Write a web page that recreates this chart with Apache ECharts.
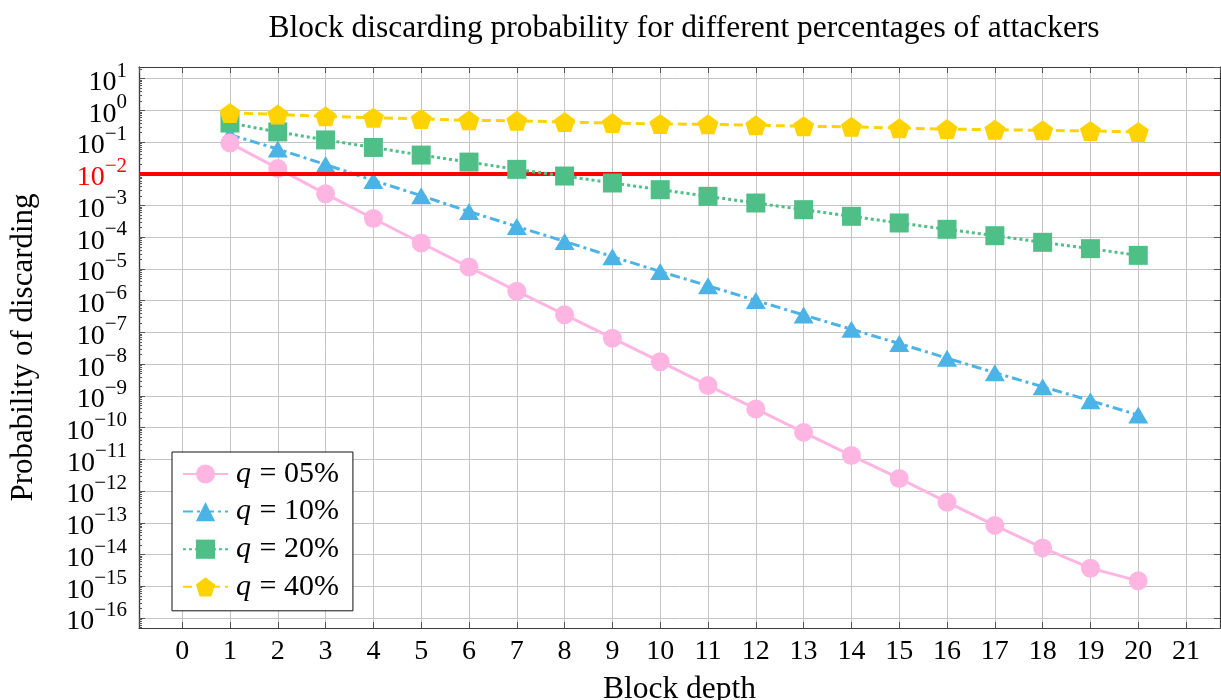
<!DOCTYPE html>
<html><head><meta charset="utf-8">
<script src="https://cdn.jsdelivr.net/npm/echarts@6/dist/echarts.min.js"></script>
<style>html,body{margin:0;padding:0;background:#fff}#c{width:1221px;height:700px}</style>
</head><body><div id="c"></div>
<script>
// ---- data ----
const depths = [1,2,3,4,5,6,7,8,9,10,11,12,13,14,15,16,17,18,19,20];
const q05 = [9.3e-2,1.48e-2,2.34e-3,3.89e-4,6.6e-5,1.15e-5,2.0e-6,3.63e-7,6.6e-8,1.2e-8,2.14e-9,3.89e-10,7.08e-11,1.32e-11,2.51e-12,4.47e-13,8.3e-14,1.62e-14,3.72e-15,1.48e-15];
const q10 = [1.70e-1,6.03e-2,1.95e-2,6.17e-3,2.04e-3,6.46e-4,2.19e-4,7.41e-5,2.45e-5,8.32e-6,2.95e-6,1.02e-6,3.55e-7,1.26e-7,4.47e-8,1.55e-8,5.37e-9,1.95e-9,7.08e-10,2.51e-10];
const q20 = [3.98e-1,2.09e-1,1.17e-1,6.76e-2,3.89e-2,2.34e-2,1.38e-2,8.51e-3,5.13e-3,3.16e-3,1.95e-3,1.20e-3,7.41e-4,4.57e-4,2.82e-4,1.78e-4,1.12e-4,6.92e-5,4.37e-5,2.69e-5];
const q40 = [8.32e-1,7.41e-1,6.46e-1,5.89e-1,5.37e-1,4.84e-1,4.68e-1,4.27e-1,3.98e-1,3.72e-1,3.63e-1,3.39e-1,3.16e-1,3.02e-1,2.75e-1,2.57e-1,2.45e-1,2.34e-1,2.24e-1,2.09e-1];
const threshold = 1e-2;
const seriesNames = ['q = 05%','q = 10%','q = 20%','q = 40%'];
const titleText = 'Block discarding probability for different percentages of attackers';
const xName = 'Block depth';
const yName = 'Probability of discarding';
const xRange = [-0.903, 21.71];
const yExpRange = [-16.315, 1.366];

// ---- helpers ----
const FONT = "'Liberation Serif', 'DejaVu Serif', serif";
const lg = v => Math.log10(v);
const minorVals = [];
for (let n = -17; n <= 1; n++) for (let k = 2; k <= 9; k++) {
  const v = n + Math.log10(k);
  if (v > yExpRange[0] && v < yExpRange[1]) minorVals.push(v);
}
const isInt = v => Math.abs(v - Math.round(v)) < 1e-6;
function yFmt(v) {
  if (!isInt(v)) return '';
  const r = Math.round(v);
  const e = r < 0 ? '\u2212' + (-r) : String(r);
  return r === Math.round(lg(threshold)) ? `{rb|10}{rs|${e}}` : `{b|10}{s|${e}}`;
}
function xFmt(v) { return isInt(v) ? String(Math.round(v)) : ''; }

const gridColor = '#c4c4c4';
const axisColor = '#3a3a3a';
const tickColor = '#555';

function mk(name, vals, color, dash, symbol, size, width, z) {
  return {
    name, type: 'line', z,
    data: depths.map((d, i) => [d, lg(vals[i])]),
    symbol, symbolSize: size,
    lineStyle: { color, width, type: dash },
    itemStyle: { color },
    emphasis: { disabled: true }
  };
}
const pentagon = 'path://M0,-1L0.951,-0.309L0.588,0.809L-0.588,0.809L-0.951,-0.309Z';

const series = [
  mk(seriesNames[0], q05, '#ffb5e2', 'solid', 'circle', 19, 3, 4),
  mk(seriesNames[1], q10, '#4cb3e6', [10,4,3,4], 'triangle', [20,17], 3, 3),
  mk(seriesNames[2], q20, '#50bf87', [3,3], 'rect', 19, 3, 5),
  mk(seriesNames[3], q40, '#ffd300', [9,5], pentagon, [21,20], 3, 6)
];
series[0].markLine = {
  silent: true, symbol: ['none','none'], label: { show: false },
  lineStyle: { color: '#ff0000', width: 4, type: 'solid' },
  data: [{ yAxis: lg(threshold) }]
};

const supStyle = c => ({ fontFamily: FONT, fontSize: 21, color: c, lineHeight: 19, verticalAlign: 'top' });
const baseStyle = c => ({ fontFamily: FONT, fontSize: 28, color: c, lineHeight: 36, verticalAlign: 'bottom' });

const chart = echarts.init(document.getElementById('c'), null, { renderer: 'canvas' });
chart.setOption({
  animation: false,
  backgroundColor: '#fff',
  textStyle: { fontFamily: FONT },
  title: {
    text: titleText, left: 679, top: 8, textAlign: 'center',
    textStyle: { fontFamily: FONT, fontSize: 31.5, fontWeight: 'normal', color: '#000' }
  },
  grid: { left: 139, top: 67, width: 1081, height: 561, containLabel: false, outerBoundsMode: 'none' },
  legend: {
    orient: 'vertical', left: 172, top: 452,
    backgroundColor: '#fff', borderColor: '#111', borderWidth: 1, borderRadius: 0,
    padding: [7, 14, 9, 10], itemGap: 7.6, itemWidth: 45, itemHeight: 24,
    selectedMode: false,
    data: seriesNames,
    formatter: n => '{i|q}{t|' + n.slice(1) + '}',
    textStyle: {
      fontFamily: FONT, fontSize: 30, color: '#000',
      rich: {
        i: { fontFamily: FONT, fontSize: 30, fontStyle: 'italic', color: '#000', padding: [0,1,0,3] },
        t: { fontFamily: FONT, fontSize: 30, color: '#000' }
      }
    }
  },
  xAxis: [
    {
      type: 'value', min: xRange[0], max: xRange[1], minInterval: 1, maxInterval: 1, splitNumber: 22,
      name: xName, nameLocation: 'middle', nameGap: 46,
      nameTextStyle: { fontFamily: FONT, fontSize: 31.5, color: '#000' },
      axisLine: { show: true, onZero: false, lineStyle: { color: axisColor, width: 1.2 } },
      axisTick: { show: true, inside: true, length: 6, lineStyle: { color: tickColor } },
      axisLabel: { margin: 10, formatter: xFmt, fontFamily: FONT, fontSize: 28, color: '#000', showMinLabel: false, showMaxLabel: false },
      splitLine: { show: true, showMinLine: false, showMaxLine: false, lineStyle: { color: gridColor, width: 1 } }
    },
    {
      type: 'value', position: 'top', min: xRange[0], max: xRange[1], minInterval: 1, maxInterval: 1, splitNumber: 22,
      axisLine: { show: true, onZero: false, lineStyle: { color: axisColor, width: 1.2 } },
      axisTick: { show: true, inside: true, length: 6, lineStyle: { color: tickColor } },
      axisLabel: { show: false }, splitLine: { show: false }
    }
  ],
  yAxis: [
    {
      type: 'value', min: yExpRange[0], max: yExpRange[1], minInterval: 1, maxInterval: 1, splitNumber: 18,
      name: yName, nameLocation: 'middle', nameGap: 100, nameRotate: 90,
      nameTextStyle: { fontFamily: FONT, fontSize: 31, color: '#000' },
      axisLine: { show: true, onZero: false, lineStyle: { color: axisColor, width: 1.2 } },
      axisTick: { show: true, inside: true, length: 6, lineStyle: { color: tickColor } },
      axisLabel: {
        margin: 12, formatter: yFmt, showMinLabel: false, showMaxLabel: false,
        rich: { b: baseStyle('#000'), s: supStyle('#000'), rb: baseStyle('#ff0000'), rs: supStyle('#ff0000') }
      },
      splitLine: { show: true, showMinLine: false, showMaxLine: false, lineStyle: { color: gridColor, width: 1 } }
    },
    {
      type: 'value', position: 'right', min: yExpRange[0], max: yExpRange[1], minInterval: 1, maxInterval: 1, splitNumber: 18,
      axisLine: { show: true, onZero: false, lineStyle: { color: axisColor, width: 1.2 } },
      axisTick: { show: true, inside: true, length: 6, lineStyle: { color: tickColor } },
      axisLabel: { show: false }, splitLine: { show: false }
    },
    {
      type: 'value', position: 'left', min: yExpRange[0], max: yExpRange[1],
      axisLine: { show: true, onZero: false, lineStyle: { color: axisColor, width: 1.2 } },
      axisTick: { show: true, inside: true, length: 3, customValues: minorVals, lineStyle: { color: tickColor } },
      axisLabel: { show: false }, splitLine: { show: false }
    }
  ],
  series
});
</script>
</body></html>
